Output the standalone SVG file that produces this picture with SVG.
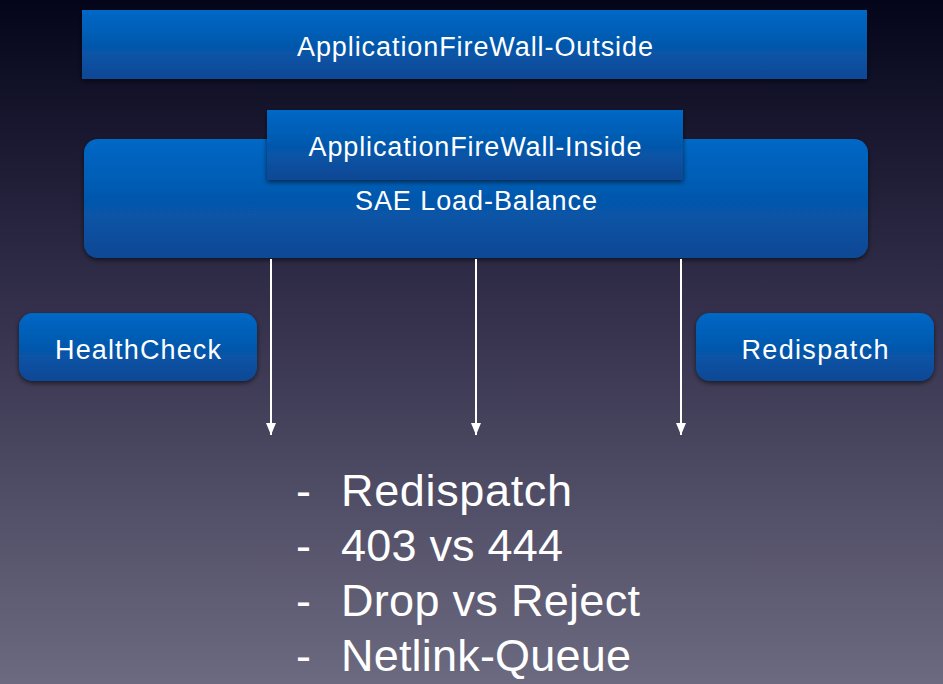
<svg xmlns="http://www.w3.org/2000/svg" width="943" height="684" viewBox="0 0 943 684">
<defs>
<linearGradient id="bg" x1="0" y1="0" x2="0" y2="1">
<stop offset="0" stop-color="#04051a"/>
<stop offset="0.45" stop-color="#34304c"/>
<stop offset="1" stop-color="#6c6a80"/>
</linearGradient>
<linearGradient id="blue" x1="0" y1="0" x2="0" y2="1">
<stop offset="0" stop-color="#0068c6"/>
<stop offset="1" stop-color="#0b4894"/>
</linearGradient>
<filter id="sh" x="-10%" y="-20%" width="120%" height="150%">
<feDropShadow dx="0" dy="2" stdDeviation="2.5" flood-color="#000" flood-opacity="0.6"/>
</filter>
<marker id="ah" markerWidth="12" markerHeight="10" refX="12" refY="5" orient="auto" markerUnits="userSpaceOnUse" viewBox="0 0 12 10">
<path d="M0,0 L12,5 L0,10 Z" fill="#fff"/>
</marker>
</defs>
<style>
.box{fill:url(#blue);filter:url(#sh)}
.lbl{font-family:"Liberation Sans",Arial,sans-serif;fill:#fff;text-anchor:middle;font-size:27px}
.big{font-family:"Liberation Sans",Arial,sans-serif;fill:#fff;font-size:45px}
.conn{stroke:#fff;stroke-width:2;fill:none;marker-end:url(#ah)}
</style>
<rect width="943" height="684" fill="url(#bg)"/>
<g id="outside">
<rect class="box" x="82" y="10" width="785" height="69"/>
<text class="lbl" x="475" y="56" textLength="356">ApplicationFireWall-Outside</text>
</g>
<g id="loadbalance">
<rect class="box" x="84" y="139" width="784" height="119" rx="14"/>
<text class="lbl" x="476" y="210" textLength="242">SAE Load-Balance</text>
</g>
<g id="inside">
<rect class="box" x="267" y="110" width="416" height="70"/>
<text class="lbl" x="475" y="156" textLength="333">ApplicationFireWall-Inside</text>
</g>
<g id="healthcheck">
<rect class="box" x="19" y="313" width="238" height="68" rx="14"/>
<text class="lbl" x="138" y="359" textLength="166">HealthCheck</text>
</g>
<g id="redispatch">
<rect class="box" x="696" y="313" width="238" height="68" rx="14"/>
<text class="lbl" x="815" y="359" textLength="147">Redispatch</text>
</g>
<g id="connectors">
<line class="conn" x1="271" y1="259" x2="271" y2="435"/>
<line class="conn" x1="476" y1="259" x2="476" y2="435"/>
<line class="conn" x1="681" y1="259" x2="681" y2="435"/>
</g>
<g id="list">
<text class="big" x="296" y="506">-</text>
<text class="big" x="341" y="506" textLength="231">Redispatch</text>
<text class="big" x="296" y="561">-</text>
<text class="big" x="341" y="561" textLength="222">403 vs 444</text>
<text class="big" x="296" y="616">-</text>
<text class="big" x="341" y="616" textLength="299">Drop vs Reject</text>
<text class="big" x="296" y="671">-</text>
<text class="big" x="341" y="671" textLength="290">Netlink-Queue</text>
</g>
</svg>
